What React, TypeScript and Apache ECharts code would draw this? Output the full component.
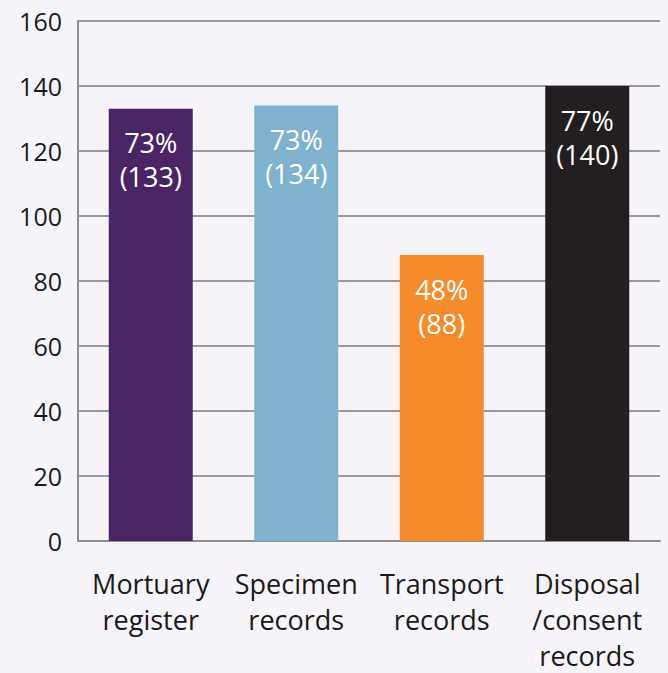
import React, { useEffect, useRef } from "react";
import * as echarts from "echarts";

const categories = ["Mortuary\nregister", "Specimen\nrecords", "Transport\nrecords", "Disposal\n/consent\nrecords"];
const counts = [133, 134, 88, 140];
const percents = [73, 73, 48, 77];
const barColors = ["#4a2566", "#7fb2cf", "#f68b2a", "#231f20"];

const FONT = "'Open Sans', 'Noto Sans', sans-serif";

export default function App() {
  const ref = useRef<HTMLDivElement>(null);

  useEffect(() => {
    if (!ref.current) return;
    const chart = echarts.init(ref.current, undefined, { renderer: "svg", width: 668, height: 673 });
    chart.setOption({
      animation: false,
      backgroundColor: "#f6f4f8",
      grid: { left: 78, right: 8, top: 21, bottom: 121, containLabel: false },
      xAxis: {
        type: "category",
        data: categories,
        axisLine: { lineStyle: { color: "#8e8e8e", width: 2 } },
        axisTick: { show: false },
        axisLabel: {
          color: "#1a1a1a",
          fontFamily: FONT,
          fontSize: 27,
          lineHeight: 36,
          margin: 24,
          interval: 0,
        },
      },
      yAxis: {
        type: "value",
        min: 0,
        max: 160,
        interval: 20,
        axisLine: { show: true, lineStyle: { color: "#8e8e8e", width: 2 } },
        axisTick: { show: false },
        splitLine: { lineStyle: { color: "#9a9a9a", width: 2 } },
        axisLabel: {
          color: "#1a1a1a",
          fontFamily: FONT,
          fontSize: 25,
          margin: 16,
        },
      },
      series: [
        {
          type: "bar",
          barWidth: 84,
          data: counts.map((v, i) => ({ value: v, itemStyle: { color: barColors[i] } })),
          label: {
            show: true,
            position: "insideTop",
            distance: 17,
            color: "#ffffff",
            fontFamily: FONT,
            fontSize: 27,
            lineHeight: 34,
            formatter: (p: any) => `${percents[p.dataIndex]}%\n(${p.value})`,
          },
        },
      ],
    });
    return () => chart.dispose();
  }, []);

  return <div ref={ref} style={{ width: 668, height: 673, position: "absolute", left: 0, top: 0 }} />;
}
